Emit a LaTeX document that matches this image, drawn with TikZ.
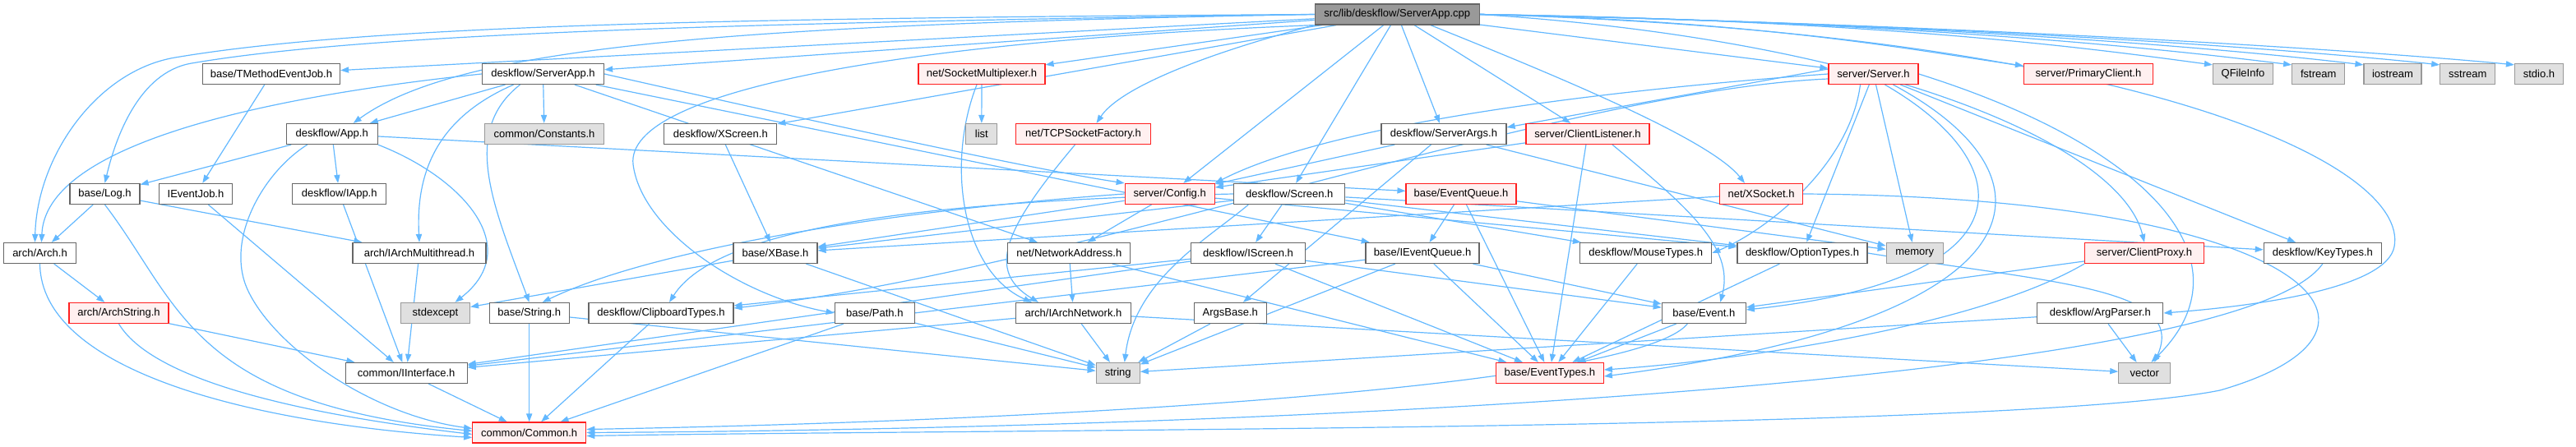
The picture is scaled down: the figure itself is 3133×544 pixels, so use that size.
\documentclass[tikz,border=0pt]{standalone}
\usepackage{fontspec}
\setmainfont{Liberation Sans}
\usetikzlibrary{arrows.meta}
\definecolor{edgec}{HTML}{63B8FF}
\definecolor{nbord}{HTML}{666666}
\definecolor{gbord}{HTML}{999999}
\definecolor{gfill}{HTML}{E0E0E0}
\definecolor{rbord}{HTML}{FF2020}
\definecolor{rfill}{HTML}{FFF0F0}
\definecolor{rootfill}{HTML}{999999}
\pgfdeclarelayer{bg}
\pgfsetlayers{bg,main}
\begin{document}
\begin{tikzpicture}[x=0.5pt,y=-0.5pt,
 box/.style={draw=nbord,fill=white,line width=0.6pt,minimum height=12.5pt,inner sep=0pt,font=\fontsize{6.5pt}{7.5pt}\selectfont},
 redbox/.style={box,draw=rbord,fill=rfill},
 graybox/.style={box,draw=gbord,fill=gfill},
 rootbox/.style={box,fill=rootfill},
 conn/.style={draw=edgec,line width=0.6pt,-{Triangle[length=5pt,width=3.6pt]}}]
\useasboundingbox (0,0) rectangle (3133,544);
% row 1
\node[rootbox,minimum width=100pt] (R) at (1699.3,17.5) {src/lib/deskflow/ServerApp.cpp};
% row 2
\node[box,minimum width=83.5pt] (tmej) at (330,90) {base/TMethodEventJob.h};
\node[box,minimum width=74pt] (sah) at (660.5,90) {deskflow/ServerApp.h};
\node[redbox,minimum width=77pt] (sockmux) at (1194,90) {net/SocketMultiplexer.h};
\node[redbox,minimum width=54.5pt] (server) at (2278.5,90) {server/Server.h};
\node[redbox,minimum width=78.5pt] (pclient) at (2540,90) {server/PrimaryClient.h};
\node[graybox,minimum width=36.5pt] (qfi) at (2728,90) {QFileInfo};
\node[graybox,minimum width=32pt] (fstream) at (2819.7,90) {fstream};
\node[graybox,minimum width=35pt] (iostream) at (2910,90) {iostream};
\node[graybox,minimum width=33.5pt] (sstream) at (3001.3,90) {sstream};
\node[graybox,minimum width=29.5pt] (stdio) at (3088,90) {stdio.h};
% row 3
\node[box,minimum width=55.5pt] (app) at (403.7,163) {deskflow/App.h};
\node[graybox,minimum width=72.5pt] (constants) at (662,163) {common/Constants.h};
\node[box,minimum width=68.5pt] (xscreen) at (876.3,163) {deskflow/XScreen.h};
\node[graybox,minimum width=19pt] (list) at (1193.8,163) {list};
\node[redbox,minimum width=82pt] (tcpsf) at (1317.5,163) {net/TCPSocketFactory.h};
\node[box,minimum width=76pt] (sargs) at (1756,163) {deskflow/ServerArgs.h};
\node[redbox,minimum width=75pt] (clistener) at (1931,163) {server/ClientListener.h};
% row 4
\node[box,minimum width=42.5pt] (log) at (127.5,236) {base/Log.h};
\node[box,minimum width=44.5pt] (ieventjob) at (238,236) {IEventJob.h};
\node[box,minimum width=57pt] (iapp) at (412.7,236) {deskflow/IApp.h};
\node[redbox,minimum width=54.5pt] (config) at (1422.7,236) {server/Config.h};
\node[box,minimum width=67.5pt] (screen) at (1568.3,236) {deskflow/Screen.h};
\node[redbox,minimum width=67pt] (equeue) at (1777,236) {base/EventQueue.h};
\node[redbox,minimum width=50.5pt] (xsocket) at (2142,236) {net/XSocket.h};
% row 5
\node[box,minimum width=44pt] (arch) at (48.5,308) {arch/Arch.h};
\node[box,minimum width=81pt] (iarchmt) at (510,308) {arch/IArchMultithread.h};
\node[box,minimum width=51pt] (xbase) at (943,308) {base/XBase.h};
\node[box,minimum width=74.5pt] (netaddr) at (1300.3,308) {net/NetworkAddress.h};
\node[box,minimum width=69.5pt] (iscreen) at (1518,308) {deskflow/IScreen.h};
\node[box,minimum width=69pt] (ieventqueue) at (1730,308) {base/IEventQueue.h};
\node[box,minimum width=80pt] (mousetypes) at (2001.7,308) {deskflow/MouseTypes.h};
\node[box,minimum width=79pt] (optiontypes) at (2192,308) {deskflow/OptionTypes.h};
\node[graybox,minimum width=34.5pt] (memory) at (2328.7,308) {memory};
\node[redbox,minimum width=72.5pt] (cproxy) at (2608,308) {server/ClientProxy.h};
\node[box,minimum width=71.5pt] (keytypes) at (2824.8,308) {deskflow/KeyTypes.h};
% row 6
\node[redbox,minimum width=60.5pt] (archstring) at (144.5,381) {arch/ArchString.h};
\node[graybox,minimum width=42pt] (stdexcept) at (529.5,381) {stdexcept};
\node[box,minimum width=48.5pt] (stringh) at (643.7,381) {base/String.h};
\node[box,minimum width=88pt] (clipboard) at (804,381) {deskflow/ClipboardTypes.h};
\node[box,minimum width=48.5pt] (path) at (1063.8,381) {base/Path.h};
\node[box,minimum width=70pt] (iarchnet) at (1305.5,381) {arch/IArchNetwork.h};
\node[box,minimum width=44pt] (argsbase) at (1496.3,381) {ArgsBase.h};
\node[box,minimum width=51pt] (event) at (2072.3,381) {base/Event.h};
\node[box,minimum width=76.5pt] (argparser) at (2554.3,381) {deskflow/ArgParser.h};
% row 7
\node[box,minimum width=74pt] (iinterface) at (494.2,454) {common/IInterface.h};
\node[graybox,minimum width=26.5pt] (string) at (1359.7,454) {string};
\node[redbox,minimum width=65.5pt] (eventtypes) at (1884.8,454) {base/EventTypes.h};
\node[graybox,minimum width=31.5pt] (vector) at (2608.3,454) {vector};
% row 8
\node[redbox,minimum width=69pt] (common) at (643.7,526.5) {common/Common.h};

\begin{pgfonlayer}{bg}
% root
\draw[conn] (R) -- (sah);
\draw[conn] (R) -- (tmej);
\draw[conn] (R.west) .. controls (900,28) and (450,40) .. (233,77) .. controls (168,88) and (140,170) .. (log.north);
\draw[conn] (R.west) .. controls (900,22) and (450,30) .. (213,70) .. controls (118,86) and (45,190) .. ([xshift=-3pt]arch.north);
\draw[conn] (R.west) .. controls (900,30) and (560,55) .. ([xshift=13pt]app.north);
\draw[conn] (R.south west) .. controls (1100,50) and (760,110) .. (770,200) .. controls (780,280) and (900,360) .. (path.west);
\draw[conn] (R) -- (config);
\draw[conn] (R) -- (xscreen);
\draw[conn] (R) -- (sockmux);
\draw[conn] (R.south west) .. controls (1450,70) and (1360,110) .. ([xshift=8pt]tcpsf.north);
\draw[conn] (R) -- (screen);
\draw[conn] (R) -- (sargs);
\draw[conn] (R) -- (clistener);
\draw[conn] (R) -- (server);
\draw[conn] (R.east) .. controls (2150,25) and (2350,65) .. ([yshift=5pt]pclient.west);
\draw[conn] ([xshift=-30pt]R.south east) .. controls (1900,95) and (2080,170) .. ([xshift=-10pt]xsocket.north);
\draw[conn] (R.east) .. controls (2300,50) and (2580,180) .. (cproxy.north);
\draw[conn] (R.east) .. controls (2300,25) and (2550,60) .. ([yshift=-1pt]qfi.north west);
\draw[conn] (R.east) .. controls (2350,27) and (2650,62) .. ([yshift=-1pt]fstream.north west);
\draw[conn] (R.east) .. controls (2400,29) and (2750,64) .. ([yshift=-1pt]iostream.north west);
\draw[conn] (R.east) .. controls (2450,31) and (2850,66) .. ([yshift=-1pt]sstream.north west);
\draw[conn] (R.east) .. controls (2500,33) and (2950,68) .. ([yshift=-1pt]stdio.north west);
\draw[conn] (R.east) .. controls (2600,40) and (2930,200) .. (2912,300) .. controls (2903,350) and (2750,372) .. (argparser.east);
% deskflow/ServerApp.h
\draw[conn] (sah) -- (app);
\draw[conn] (sah) -- (constants);
\draw[conn] (sah.west) .. controls (300,120) and (55,180) .. ([xshift=1pt]arch.north);
\draw[conn] ([xshift=-18pt]sah.south) .. controls (540,140) and (505,200) .. (iarchmt.north);
\draw[conn] ([xshift=-14pt]sah.south) .. controls (560,160) and (600,250) .. (stringh.north);
\draw[conn] (sah.east) .. controls (1000,150) and (1250,205) .. (config.north west);
\draw[conn] (sah) -- (netaddr);
\draw[conn] (sah) -- (ieventqueue);
\draw[conn] (tmej) -- (ieventjob);
% deskflow/App.h
\draw[conn] (app) -- (log);
\draw[conn] (app) -- (iapp);
\draw[conn] (app) -- (equeue);
\draw[conn] ([xshift=-15pt]app.south) .. controls (320,210) and (275,290) .. (300,350) .. controls (330,420) and (450,505) .. ([yshift=2.5pt]common.west);
\draw[conn] ([xshift=28pt]app.south) .. controls (560,215) and (640,300) .. ([xshift=12pt]stdexcept.north);
% base/Log.h
\draw[conn] (log) -- (arch);
\draw[conn] (log) -- (iarchmt);
\draw[conn] (log.south) .. controls (220,370) and (230,490) .. ([yshift=1pt]common.west);
% arch
\draw[conn] (arch) -- (archstring);
\draw[conn] (arch.south) .. controls (50,450) and (300,515) .. ([yshift=-3pt]common.west);
\draw[conn] (archstring) -- (iinterface);
\draw[conn] (archstring.south) .. controls (190,470) and (400,508) .. ([yshift=-1pt]common.west);
\draw[conn] (iarchmt) -- (iinterface);
\draw[conn] (ieventjob) -- (iinterface);
\draw[conn] (iapp) -- (iinterface);
\draw[conn] (iinterface) -- (common);
\draw[conn] (xscreen) -- (xbase);
% net
\draw[conn] (sockmux) -- (list);
\draw[conn] ([xshift=-3pt]sockmux.south) .. controls (1150,200) and (1170,330) .. ([xshift=10pt]iarchnet.north west);
\draw[conn] ([xshift=-5pt]tcpsf.south) .. controls (1220,280) and (1200,330) .. ([xshift=14pt]iarchnet.north west);
% server/Config.h
\draw[conn] (config) -- (netaddr);
\draw[conn] (config) -- (xbase);
\draw[conn] (config.west) .. controls (1100,255) and (800,300) .. ([xshift=8pt]stringh.north);
\draw[conn] (config) -- (optiontypes);
% deskflow/Screen.h
\draw[conn] (screen) -- (iscreen);
\draw[conn] (screen) -- (xbase);
\draw[conn] (screen.west) .. controls (1100,245) and (870,280) .. ([xshift=5pt]clipboard.north);
\draw[conn] (screen) -- (mousetypes);
\draw[conn] (screen) -- (keytypes);
\draw[conn] (screen) -- (optiontypes);
\draw[conn] ([xshift=-25pt]screen.south) .. controls (1470,290) and (1380,340) .. ([xshift=4pt]string.north);
% base/EventQueue.h
\draw[conn] (equeue) -- (ieventqueue);
\draw[conn] (equeue) -- (eventtypes);
\draw[conn] (equeue) -- (memory);
% deskflow/ServerArgs.h
\draw[conn] (sargs) -- (argsbase);
\draw[conn] (sargs) -- (config);
\draw[conn] (sargs) -- (memory);
% server/ClientListener.h
\draw[conn] (clistener) -- (config);
\draw[conn] (clistener) -- (eventtypes);
\draw[conn] ([xshift=15pt]clistener.south) .. controls (2050,250) and (2110,300) .. ([xshift=10pt]event.north);
% server/Server.h
\draw[conn] ([yshift=3pt]server.west) -- ([yshift=4pt]sargs.east);
\draw[conn] (server.west) .. controls (1950,110) and (1620,150) .. (config.north east);
\draw[conn] ([yshift=-3pt]server.west) .. controls (1900,110) and (1300,330) .. ([yshift=3pt]clipboard.east);
\draw[conn] ([xshift=7pt]server.south) .. controls (2460,200) and (2470,340) .. ([yshift=2pt]event.east);
\draw[conn] ([xshift=12pt]server.south) .. controls (2520,220) and (2480,390) .. ([yshift=-2pt]eventtypes.east);
\draw[conn] (server) -- (memory);
\draw[conn] (server) -- (optiontypes);
\draw[conn] ([xshift=-8pt]server.south) .. controls (2250,200) and (2150,280) .. (mousetypes.east);
\draw[conn] (server) -- (keytypes);
\draw[conn] (server.east) .. controls (2620,180) and (2740,320) .. ([xshift=4pt]vector.north);
% net/XSocket.h
\draw[conn] (xsocket) -- (xbase);
\draw[conn] (xsocket.east) .. controls (2800,240) and (2960,400) .. (2700,475) .. controls (2450,525) and (1200,522) .. ([yshift=-2pt]common.east);
% server/ClientProxy.h
\draw[conn] (cproxy) -- (event);
\draw[conn] (cproxy.south west) .. controls (2400,400) and (2100,440) .. ([yshift=2pt]eventtypes.east);
% net / arch
\draw[conn] (netaddr) -- (iarchnet);
\draw[conn] (netaddr) -- (eventtypes);
\draw[conn] (iarchnet) -- (iinterface);
\draw[conn] (iarchnet) -- (string);
\draw[conn] (iarchnet) -- (vector);
% deskflow/IScreen.h
\draw[conn] (iscreen) -- (iinterface);
\draw[conn] (iscreen) -- (eventtypes);
\draw[conn] (iscreen) -- (clipboard);
\draw[conn] (iscreen) -- (event);
% base/IEventQueue.h
\draw[conn] (ieventqueue) -- (iinterface);
\draw[conn] (ieventqueue) -- (event);
\draw[conn] (ieventqueue) -- (eventtypes);
\draw[conn] (ieventqueue) -- (string);
% types
\draw[conn] (mousetypes) -- (eventtypes);
\draw[conn] (optiontypes) -- (eventtypes);
\draw[conn] (optiontypes.east) .. controls (2500,345) and (2660,350) .. ([xshift=6pt]vector.north);
\draw[conn] (keytypes.south) .. controls (2720,470) and (1500,522) .. (common.east);
\draw[conn] (argsbase) -- (string);
\draw[conn] (argparser) -- (string);
\draw[conn] (argparser) -- (vector);
\draw[conn] (event) -- (eventtypes);
\draw[conn] ([xshift=-10pt]event.south) .. controls (1990,470) and (1300,512) .. ([yshift=2pt]common.east);
\draw[conn] (path) -- (common);
\draw[conn] (path) -- (string);
\draw[conn] (xbase) -- (stdexcept);
\draw[conn] (xbase) -- (string);
\draw[conn] (stringh) -- (common);
\draw[conn] (stringh) -- (string);
\draw[conn] (clipboard) -- (common);
\end{pgfonlayer}
\end{tikzpicture}
\end{document}
